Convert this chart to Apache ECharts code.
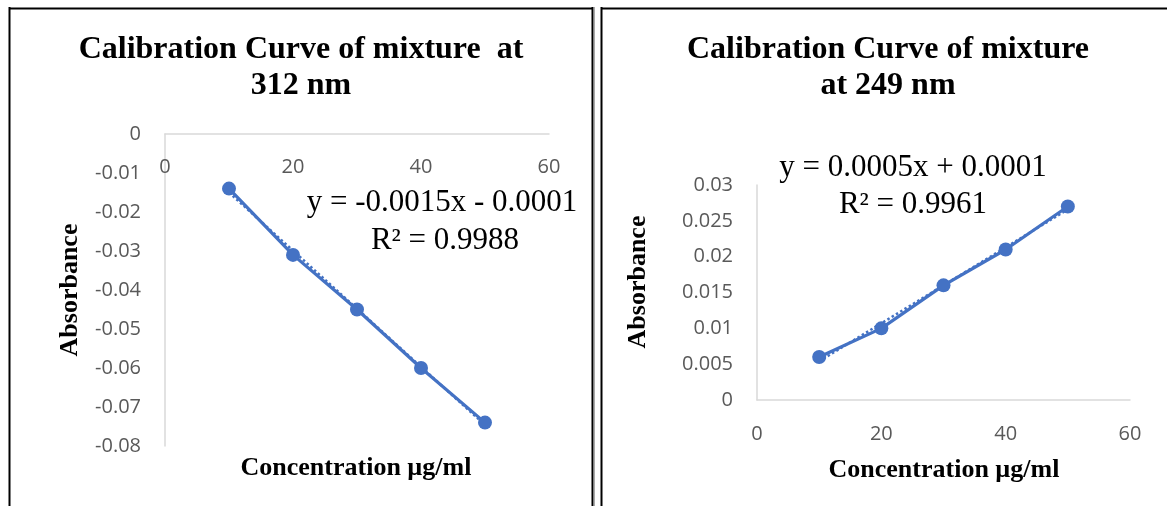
<!DOCTYPE html>
<html>
<head>
<meta charset="utf-8">
<script src="https://cdn.jsdelivr.net/npm/echarts@6/dist/echarts.min.js"></script>
<style>
html,body{margin:0;padding:0;background:#fff;}
#chart{width:1167px;height:506px;}
</style>
</head>
<body>
<div id="chart"></div>
<script>
// ---- data ----
var concentration = [10, 20, 30, 40, 50];
var absorbance312 = [-0.014, -0.031, -0.045, -0.060, -0.074];
var absorbance249 = [0.006, 0.010, 0.016, 0.021, 0.027];
// dotted trendline endpoints
var trendX = [10, 50];
var trend312 = [-0.0150, -0.0746];
var trend249 = [0.0054, 0.0266];
var xTicks = [0, 20, 40, 60];
var title312 = ['Calibration Curve of mixture  at', '312 nm'];
var title249 = ['Calibration Curve of mixture', 'at 249 nm'];
var eq312 = ['y = -0.0015x - 0.0001', 'R² = 0.9988'];
var eq249 = ['y = 0.0005x + 0.0001', 'R² = 0.9961'];
var xName = 'Concentration µg/ml';
var yName = 'Absorbance';

function pairs(xs, ys){ return xs.map(function(x,i){ return [x, ys[i]]; }); }
function fmt(v){ return String(parseFloat(Number(v).toFixed(4))); }

var BLUE = '#4472C4';
var SERIF = '"Liberation Serif", "Times New Roman", serif';
var SANS = '"Open Sans", "Liberation Sans", sans-serif';

var axisLabel = {color:'#595959', fontSize:20, fontFamily:SANS, formatter:fmt};
var axisLine = {show:true, onZero:false, lineStyle:{color:'#d9d9d9', width:1.5}};

var chart = echarts.init(document.getElementById('chart'), null, {renderer:'canvas'});

function txt(x, y, t, size, bold, rot){
  return {type:'text', x:x, y:y, rotation:rot||0,
    style:{text:t, textAlign:'center', textVerticalAlign:'middle', font:(bold?'bold ':'')+size+'px '+SERIF, fill:'#000'}};
}

var option = {
  backgroundColor:'#fff',
  animation:false,
  grid:[
    {left:165, top:134, width:384, height:312},
    {left:757, top:185, width:373, height:215}
  ],
  xAxis:[
    {gridIndex:0, type:'value', position:'top', min:0, max:60, interval:20, axisLine:axisLine, axisTick:{show:false},
     splitLine:{show:false}, axisLabel:Object.assign({}, axisLabel, {inside:true, margin:23})},
    {gridIndex:1, type:'value', min:0, max:60, interval:20, axisLine:axisLine, axisTick:{show:false},
     splitLine:{show:false}, axisLabel:Object.assign({}, axisLabel, {margin:24})}
  ],
  yAxis:[
    {gridIndex:0, type:'value', min:-0.08, max:0, interval:0.01, axisLine:axisLine, axisTick:{show:false},
     splitLine:{show:false}, axisLabel:Object.assign({}, axisLabel, {margin:24})},
    {gridIndex:1, type:'value', min:0, max:0.03, interval:0.005, axisLine:axisLine, axisTick:{show:false},
     splitLine:{show:false}, axisLabel:Object.assign({}, axisLabel, {margin:24})}
  ],
  series:[
    {type:'line', xAxisIndex:0, yAxisIndex:0, data:pairs(trendX, trend312), symbol:'none',
     lineStyle:{color:BLUE, width:2.5, type:'dotted'}, z:1},
    {type:'line', xAxisIndex:0, yAxisIndex:0, data:pairs(concentration, absorbance312), symbol:'circle', symbolSize:14,
     itemStyle:{color:BLUE}, lineStyle:{color:BLUE, width:3.2}, z:2},
    {type:'line', xAxisIndex:1, yAxisIndex:1, data:pairs(trendX, trend249), symbol:'none',
     lineStyle:{color:BLUE, width:2.5, type:'dotted'}, z:1},
    {type:'line', xAxisIndex:1, yAxisIndex:1, data:pairs(concentration, absorbance249), symbol:'circle', symbolSize:14,
     itemStyle:{color:BLUE}, lineStyle:{color:BLUE, width:3.2}, z:2}
  ],
  graphic:[
    // panel borders
    {type:'line', shape:{x1:9.5, y1:7, x2:9.5, y2:506}, style:{stroke:'#000', lineWidth:2}},
    {type:'line', shape:{x1:9, y1:8.5, x2:593, y2:8.5}, style:{stroke:'#000', lineWidth:2}},
    {type:'line', shape:{x1:592.5, y1:7, x2:592.5, y2:506}, style:{stroke:'#000', lineWidth:2}},
    {type:'line', shape:{x1:594.5, y1:7, x2:594.5, y2:506}, style:{stroke:'#aaa', lineWidth:1}},
    {type:'line', shape:{x1:601.5, y1:7, x2:601.5, y2:506}, style:{stroke:'#000', lineWidth:2}},
    {type:'line', shape:{x1:601, y1:8.5, x2:1167, y2:8.5}, style:{stroke:'#000', lineWidth:2}},
    // titles
    txt(301, 50, title312[0], 32, true),
    txt(301, 86, title312[1], 32, true),
    txt(888, 50, title249[0], 32, true),
    txt(888, 86, title249[1], 32, true),
    // equations
    txt(442, 203, eq312[0], 31, false),
    txt(445, 241, eq312[1], 31, false),
    txt(913, 168, eq249[0], 31, false),
    txt(913, 205, eq249[1], 31, false),
    // axis names
    txt(356, 468, xName, 26, true),
    txt(944, 470, xName, 26, true),
    txt(70, 290, yName, 26, true, Math.PI/2),
    txt(638, 282, yName, 26, true, Math.PI/2)
  ]
};
chart.setOption(option);
</script>
</body>
</html>
